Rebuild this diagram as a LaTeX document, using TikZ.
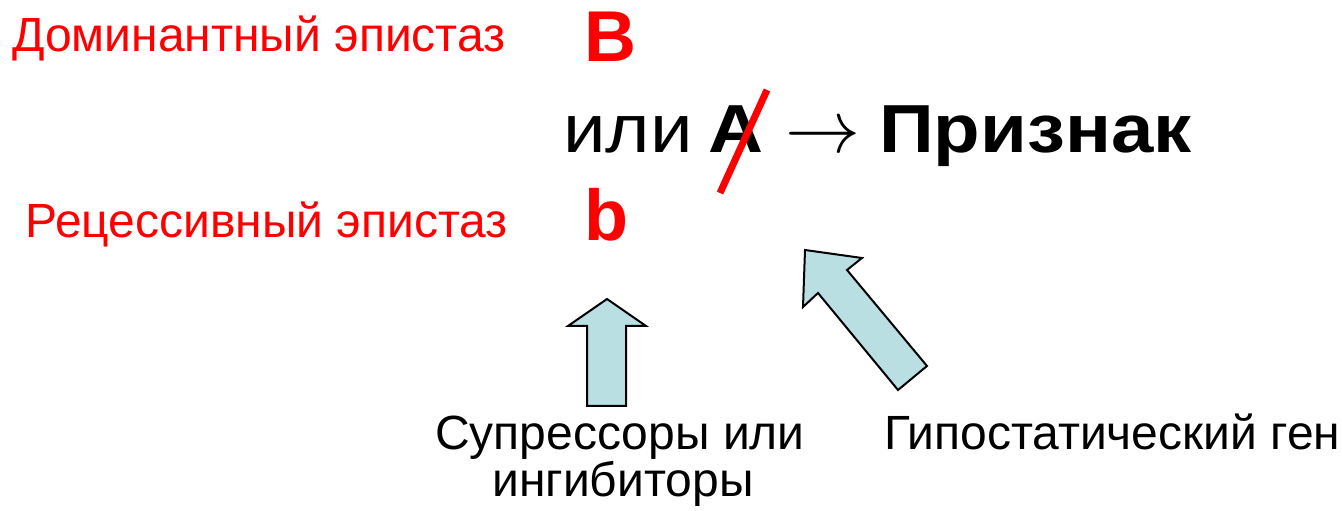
\documentclass[tikz,border=0pt]{standalone}
\usepackage{fontspec}
\setmainfont{Liberation Sans}
\newfontfamily\widefont[FakeStretch=1.12]{Liberation Sans}
\definecolor{blockcyan}{RGB}{185,223,227}

\begin{document}
\begin{tikzpicture}[x=1pt,y=1pt,
  epistasis/.style={red,font=\fontsize{48}{48}\selectfont,anchor=base west,inner sep=0},
  gene/.style={red,font=\bfseries\fontsize{72}{72}\selectfont,anchor=base west,inner sep=0},
  formula/.style={font=\widefont\fontsize{68}{68}\selectfont,anchor=base west,inner sep=0},
  caption/.style={font=\fontsize{48}{48}\selectfont,anchor=base west,inner sep=0},
  blockarrow/.style={draw=black,line width=2pt,fill=blockcyan,line join=miter}]
\useasboundingbox (0,0) rectangle (1342,511);

\node[epistasis] (dom) at (12,459) {Доминантный эпистаз};
\node[gene] (B) at (584,449) {B};

\node[formula] (ili) at (563,358) {или};
\node[formula,font=\widefont\bfseries\fontsize{68}{68}\selectfont] (A) at (708,358) {A};
\node[formula,font=\fontsize{10}{12}\selectfont] (to) at (785,358) {\scalebox{7.5}{$\rightarrow$}};
\node[formula,font=\widefont\bfseries\fontsize{68}{68}\selectfont] (sign) at (879,358) {Признак};

\node[epistasis] (rec) at (25,273) {Рецессивный эпистаз};
\node[gene] (b) at (584,270) {b};

% crossed out gene
\draw [red,line width=7pt] (720,318) -- (767,421);

% block arrows
\draw [blockarrow] (607,212) -- (646,185) -- (626,185) -- (626,105) -- (587,105) -- (587,185) -- (568,185) -- cycle;
\draw [blockarrow] (805,261) -- (862,253) -- (847,241) -- (927,145) -- (898,121) -- (818,218) -- (803,204) -- cycle;

\node[caption] (sup) at (435,61) {Супрессоры или};
\node[caption] (ing) at (492,14) {ингибиторы};
\node[caption] (hyp) at (884,61) {Гипостатический ген};

\end{tikzpicture}
\end{document}
